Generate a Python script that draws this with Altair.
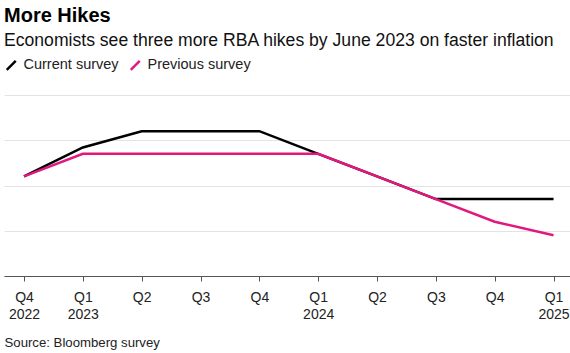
import altair as alt
import pandas as pd

# ---- data ----
quarter_labels = ["Q4|2022", "Q1|2023", "Q2", "Q3", "Q4", "Q1|2024", "Q2", "Q3", "Q4", "Q1|2025"]
current_survey = [3.10, 3.42, 3.60, 3.60, 3.60, 3.35, 3.10, 2.85, 2.85, 2.85]
previous_survey = [3.10, 3.35, 3.35, 3.35, 3.35, 3.35, 3.10, 2.85, 2.60, 2.45]
series_names = ["Current survey", "Previous survey"]
series_colors = ["#000000", "#e2187f"]

rows = []
for i, lab in enumerate(quarter_labels):
    rows.append({"idx": i, "series": series_names[0], "rate": current_survey[i]})
for i, lab in enumerate(quarter_labels):
    rows.append({"idx": i, "series": series_names[1], "rate": previous_survey[i]})
df = pd.DataFrame(rows)

label_array = "[" + ",".join("'" + s + "'" for s in quarter_labels) + "]"
label_expr = "split(" + label_array + "[datum.value], '|')"

FONT = "Liberation Sans"

chart = alt.Chart(df).mark_line(strokeWidth=2.5, strokeJoin="miter").encode(
    x=alt.X(
        "idx:Q",
        scale=alt.Scale(domain=[-0.34, 9.28], nice=False, zero=False),
        axis=alt.Axis(
            values=list(range(len(quarter_labels))),
            labelExpr=label_expr,
            grid=False,
            domainColor="#555555",
            tickColor="#555555",
            tickSize=5,
            labelFontSize=14,
            labelColor="#222222",
            labelPadding=9,
            labelLineHeight=17,
            labelFont=FONT,
            title="Source: Bloomberg survey",
            titleAnchor="start",
            titleAlign="left",
            titleFontWeight="normal",
            titleFontSize=13.2,
            titleFont=FONT,
            titleColor="#222222",
            titlePadding=15,
        ),
    ),
    y=alt.Y(
        "rate:Q",
        scale=alt.Scale(domain=[2.0, 4.0], nice=False, zero=False),
        axis=alt.Axis(
            values=[2.0, 2.5, 3.0, 3.5, 4.0],
            labels=False,
            ticks=False,
            domain=False,
            title=None,
            gridColor="#e3e3e3",
            gridWidth=1,
        ),
    ),
    color=alt.Color(
        "series:N",
        scale=alt.Scale(domain=series_names, range=series_colors),
        legend=alt.Legend(
            title=None,
            orient="none",
            legendX=0,
            legendY=-37,
            direction="horizontal",
            symbolType="M-1,1L1,-1",
            symbolSize=80,
            symbolStrokeWidth=2.5,
            labelFontSize=14.5,
            labelFont=FONT,
            labelColor="#222222",
            labelOffset=5,
            columnPadding=6,
        ),
    ),
).properties(
    width=566,
    height=181,
    padding={"left": 4, "top": 95, "right": 0, "bottom": 77},
    autosize=alt.AutoSizeParams(type="none"),
    title=alt.TitleParams(
        text="More Hikes",
        subtitle="Economists see three more RBA hikes by June 2023 on faster inflation",
        anchor="start",
        frame="group",
        font=FONT,
        fontSize=20,
        fontWeight="bold",
        color="#000000",
        subtitleFont=FONT,
        subtitleFontSize=17.6,
        subtitleColor="#111111",
        subtitlePadding=6,
        offset=8,
    ),
).configure_view(stroke=None)

chart.save("out.html", embed_options={"renderer": "svg", "actions": False})
